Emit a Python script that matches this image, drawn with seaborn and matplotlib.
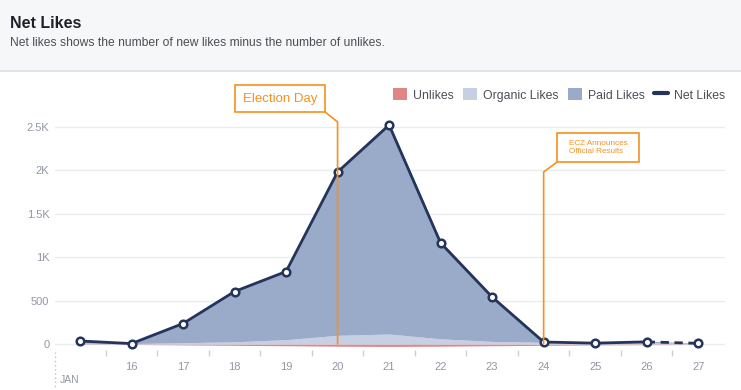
import matplotlib
matplotlib.use("Agg")
import matplotlib.pyplot as plt
import seaborn as sns
import pandas as pd
from matplotlib.patches import Rectangle, Patch
from matplotlib.lines import Line2D

# data (January days)
days = [15, 16, 17, 18, 19, 20, 21, 22, 23, 24, 25, 26, 27]
net_likes = [35, 5, 236, 605, 835, 1982, 2523, 1164, 541, 23, 10, 25, 8]
organic_likes = [10, 5, 15, 25, 50, 100, 115, 60, 30, 20, 10, 15, 8]
unlikes = [5, 5, 10, 15, 20, 25, 28, 25, 20, 15, 10, 8, 5]
paid_likes = [30, 5, 231, 595, 805, 1907, 2436, 1129, 531, 18, 10, 18, 5]

x_labels = [16, 17, 18, 19, 20, 21, 22, 23, 24, 25, 26, 27]
y_ticks = [0, 500, 1000, 1500, 2000, 2500]
y_labels = ["0", "500", "1K", "1.5K", "2K", "2.5K"]

c_unlike = "#e08686"
c_organic = "#c7cfe2"
c_paid = "#9aabc9"
c_net = "#25345a"
c_orange = "#f7901e"
c_tick = "#9197a3"

df = pd.DataFrame({"day": days, "net": net_likes})

sns.set_style("white")
plt.rcParams["font.family"] = ["Liberation Sans", "DejaVu Sans"]

fig = plt.figure(figsize=(7.41, 3.9), dpi=100)

# header panel
fig.patches.append(Rectangle((0, 1 - 71 / 390), 1, 71 / 390, transform=fig.transFigure,
                             facecolor="#f6f7f9", edgecolor="none", zorder=0))
fig.add_artist(Line2D([0, 1], [1 - 71 / 390] * 2, transform=fig.transFigure,
                      color="#dddfe2", lw=1.2))
fig.text(10 / 741, 1 - 23 / 390, "Net Likes", fontsize=11.5, fontweight="bold",
         color="#1d2129", va="center")
fig.text(10 / 741, 1 - 43 / 390, "Net likes shows the number of new likes minus the number of unlikes.",
         fontsize=8.7, color="#4b4f56", va="center")

ax = fig.add_axes([55 / 741, 1 - 350 / 390, 670 / 741, 230 / 390])
ax.set_xlim(14.515, 27.52)
ax.set_ylim(-69, 2581)

# stacked areas
ax.fill_between(days, 0, [-u for u in unlikes], color=c_unlike, lw=0, zorder=2)
ax.fill_between(days, 0, organic_likes, color=c_organic, lw=0, zorder=2)
top = [o + p for o, p in zip(organic_likes, paid_likes)]
ax.fill_between(days, organic_likes, top, color=c_paid, lw=0, zorder=2)

# net likes line
sns.lineplot(data=df.iloc[:-1], x="day", y="net", ax=ax, color=c_net, lw=2, zorder=4)
ax.plot(days[-2:], net_likes[-2:], color=c_net, lw=2, ls=(0, (3, 2)), zorder=4)
ax.scatter(days, net_likes, s=30, facecolor="white", edgecolor=c_net, linewidths=1.8, zorder=5)

ax.set_xlabel("")
ax.set_ylabel("")
for s in ax.spines.values():
    s.set_visible(False)
ax.set_yticks(y_ticks)
ax.set_yticklabels(y_labels)
ax.yaxis.grid(True, color="#e9ebee", lw=1)
ax.set_axisbelow(True)
ax.tick_params(axis="y", length=0, labelsize=8, labelcolor=c_tick, pad=4)

ax.set_xticks(x_labels)
ax.set_xticklabels([str(d) for d in x_labels])
ax.set_xticks([d - 0.5 for d in x_labels], minor=True)
ax.tick_params(axis="x", which="major", length=0, labelsize=8, labelcolor=c_tick, pad=9)
ax.tick_params(axis="x", which="minor", bottom=True, length=4, width=1, color="#ccd0d5",
               direction="out")

# JAN marker
fig.add_artist(Line2D([55 / 741] * 2, [1 - 352 / 390, 0], transform=fig.transFigure,
                      color="#bec3c9", lw=1, ls=(0, (1, 2))))
fig.text(60 / 741, 1 - 380 / 390, "JAN", fontsize=7.5, color=c_tick, va="center")

# Election Day annotation
ax.plot([20, 20, 19.76], [0, 2558, 2673], color=c_orange, lw=1.2, clip_on=False, zorder=6)
ax.add_patch(Rectangle((18.0, 2673), 1.76, 311, facecolor="white", edgecolor=c_orange,
                       lw=1.2, clip_on=False, zorder=6))
ax.text(18.88, 2828, "Election Day", color=c_orange, fontsize=9.5, ha="center", va="center",
        clip_on=False, zorder=7)

# ECZ annotation
ax.plot([24, 24, 24.26], [0, 1982, 2097], color=c_orange, lw=1.2, clip_on=False, zorder=6)
ax.add_patch(Rectangle((24.26, 2097), 1.6, 334, facecolor="white", edgecolor=c_orange,
                       lw=1.2, clip_on=False, zorder=6))
ax.text(24.5, 2264, "ECZ Announces\nOfficial Results", color=c_orange, fontsize=5.9,
        ha="left", va="center", linespacing=1.3, zorder=7)

# legend
handles = [Patch(facecolor=c_unlike, edgecolor="none", label="Unlikes"),
           Patch(facecolor=c_organic, edgecolor="none", label="Organic Likes"),
           Patch(facecolor=c_paid, edgecolor="none", label="Paid Likes"),
           Line2D([0], [0], color=c_net, lw=3, label="Net Likes")]
leg = fig.legend(handles=handles, loc="center right", bbox_to_anchor=(730 / 741, 1 - 95 / 390),
                 ncol=4, frameon=False, fontsize=8.8, handlelength=1.1, handleheight=1.1,
                 handletextpad=0.5, columnspacing=0.8, borderaxespad=0)
for t in leg.get_texts():
    t.set_color("#4b4f56")

fig.savefig("out.png", dpi=100)
